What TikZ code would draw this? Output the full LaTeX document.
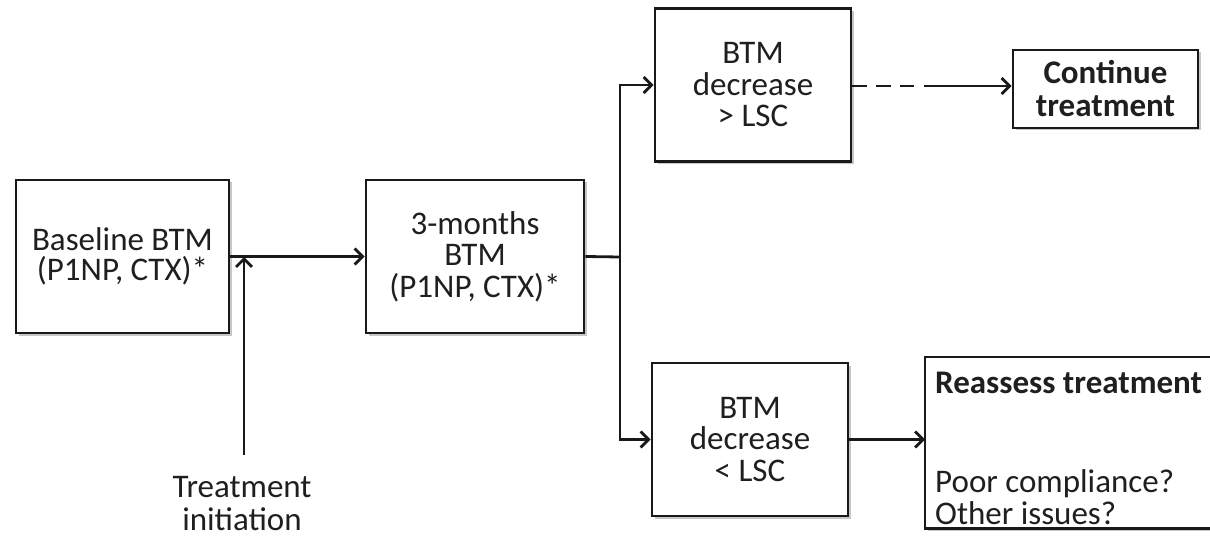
\documentclass[tikz,border=0pt]{standalone}
\usepackage{fontspec}
\setmainfont{Carlito}
\usetikzlibrary{arrows.meta,shadows}
\begin{document}
\begin{tikzpicture}[x=1pt,y=-1pt,
  ink/.style={draw=black!90, line width=2.8pt},
  box/.style={ink, fill=white, inner sep=0pt, align=center,
    text=black!88, font=\fontsize{33}{31.5}\selectfont,
    drop shadow={shadow xshift=2.5pt, shadow yshift=-2.5pt, opacity=0.22, fill=black}},
  label/.style={align=center, inner sep=0pt, text=black!88,
    font=\fontsize{33}{33}\selectfont},
  tip/.style={-{Straight Barb[length=8pt,width=16pt,line width=2.8pt]}},
  link/.style={ink, tip},
  plain/.style={ink}]
\useasboundingbox (0,0) rectangle (1210,537);
\clip (0,0) rectangle (1210,537);

% boxes
\node[box, minimum width=213pt, minimum height=153pt] (base) at (122.5,256.5)
  {Baseline BTM\\[-1.5pt](P1NP, CTX)*};
\node[box, minimum width=218pt, minimum height=153pt] (three) at (475,256.5)
  {3-months\\BTM\\(P1NP, CTX)*};
\node[box, minimum width=196pt, minimum height=153pt] (up) at (753,85)
  {BTM\\decrease\\> LSC};
\node[box, minimum width=196pt, minimum height=153pt] (down) at (750,439.5)
  {BTM\\decrease\\< LSC};
\node[box, minimum width=185pt, minimum height=78pt,
      font=\fontsize{33}{33}\selectfont\bfseries] (cont) at (1105.5,89)
  {Continue\\treatment};

% the right-hand box runs on past the edge of the page: only three sides show
\node[anchor=north west, inner sep=0pt, minimum width=400pt, minimum height=171pt]
  (reas) at (925,357) {};
\fill[black, opacity=0.22] ([shift={(2.5,2.5)}]reas.north west)
  rectangle ([shift={(2.5,2.5)}]reas.south east);
\fill[white] (reas.north west) rectangle (reas.south east);
\draw[ink] (reas.north east) -- (reas.north west) -- (reas.south west)
  -- (reas.south east);
\node[label, anchor=north west, align=left, font=\fontsize{33}{32}\selectfont]
  (reastext) at (935,372)
  {\textbf{Reassess treatment}\\[67pt]Poor compliance?\\Other issues?};

\node[label] (init) at (242,503.5) {Treatment\\initiation};

% connectors
\coordinate (join) at (244,257);
\coordinate (start) at (244,455);
\coordinate (split) at (620,257);
\coordinate (dashend) at (914,86);
\coordinate (solidstart) at (924,86);

\draw[link] (base.east) -- (three.west);
\draw[link] (start) -- (join);
\draw[plain] (three.east) -- (split);
\draw[link] (split) |- (up.west);
\draw[link] (split) |- (down.west);
\draw[ink, dash pattern=on 15pt off 9pt] (up.east |- dashend) -- (dashend);
\draw[link] (solidstart) -- (cont.west |- solidstart);
\draw[link] (down.east) -- (reas.west |- down.east);
\end{tikzpicture}
\end{document}
